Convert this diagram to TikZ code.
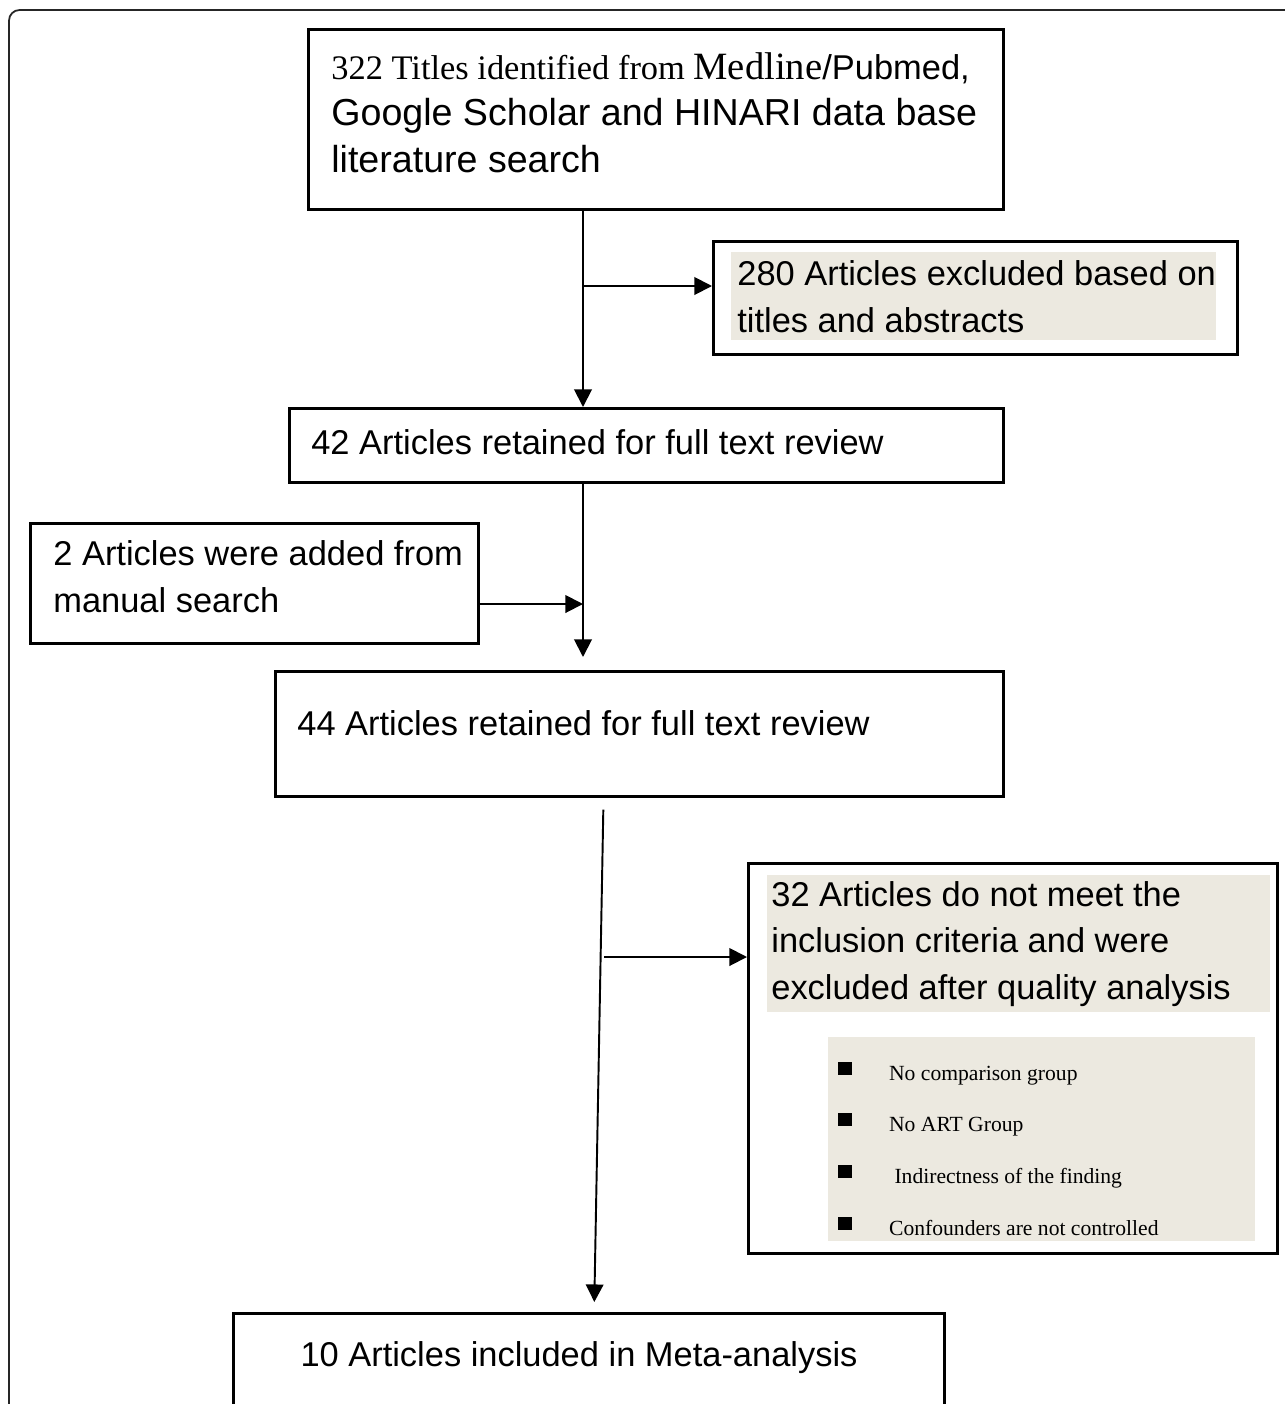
\documentclass[tikz,border=0pt]{standalone}
\usepackage{fontspec}
\setmainfont{Liberation Sans}
\newfontfamily\timesfont{Liberation Serif}
\usetikzlibrary{arrows.meta,calc}
\definecolor{shade}{RGB}{236,233,224}
\newcommand{\bigtxt}{\fontsize{19.6}{26.6}\selectfont}
\newcommand{\sq}{\rule[2.6pt]{7.8pt}{7.8pt}\hspace{21.1pt}}
\tikzset{
  box/.style 2 args={draw, line width=1.5pt, anchor=north west, inner sep=0pt,
    minimum width=#1*0.02cm, minimum height=#2*0.02cm},
  pad/.style 2 args={fill=shade, anchor=north west, inner sep=0pt,
    minimum width=#1*0.02cm, minimum height=#2*0.02cm},
  txt/.style={inner sep=0pt, align=left, font=\bigtxt},
  itm/.style={anchor=base west, inner sep=0pt, font=\timesfont\fontsize{12.3}{14}\selectfont},
  arr/.style={-{Triangle[length=10pt,width=10pt]}, line width=1.1pt},
}
\begin{document}
\begin{tikzpicture}[x=0.02cm, y=-0.02cm]
    \useasboundingbox (0,0) rectangle (1285,1404);
    \clip (0,0) rectangle (1285,1404);

    % 枠
    \draw[black!85, line width=1pt, rounded corners=6pt] (9,1460)--(9,10)--(1320,10);

    % 箱
    \node[box={695}{180}] (titles) at (307,28) {};
    \node[txt, anchor=north west, font=\fontsize{21.4}{26.6}\selectfont] (titlestx) at (331,52)
        {{\timesfont\bigtxt 322 Titles identified from {\fontsize{22}{26.6}\selectfont Medline}}{\bigtxt /Pubmed,}\\
         Google Scholar and HINARI data base\\
         literature search};

    \node[box={524}{113}] (excl) at (712,240) {};
    \node[pad={485}{88}] (exclbg) at (731,252) {};
    \node[txt, anchor=west] (excltx) at ($(exclbg.west)+(6,0)$)
        {280 Articles excluded based on\\ titles and abstracts};

    \node[box={714}{74}] (ret42) at (288,407) {};
    \node[txt, anchor=west] (ret42tx) at (311,442) {42 Articles retained for full text review};

    \node[box={448}{120}] (added) at (29,522) {};
    \node[txt, anchor=north west] (addedtx) at (53,540)
        {2 Articles were added from\\ manual search};

    \node[box={728}{125}] (ret44) at (274,670) {};
    \node[txt, anchor=west] (ret44tx) at (297,723) {44 Articles retained for full text review};

    \node[box={529}{390}] (excl32) at (747,862) {};
    \node[pad={503}{137}] (excl32bg) at (767,875) {};
    \node[txt, anchor=west] (excl32tx) at ($(excl32bg.west)+(4,0)$)
        {32 Articles do not meet the\\ inclusion criteria and were\\ excluded after quality analysis};
    \node[pad={427}{204}] (critbg) at (828,1037) {};
    \node[itm] (crit1) at (838,1080) {\sq No comparison group};
    \node[itm] (crit2) at (838,1131) {\sq No ART Group};
    \node[itm] (crit3) at (838,1183) {\sq\ Indirectness of the finding};
    \node[itm] (crit4) at (838,1235) {\sq Confounders are not controlled};

    \node[box={711}{140}] (incl) at (232,1312) {};
    \node[txt] (incltx) at (579,1358) {10 Articles included in Meta-analysis};

    % 矢印
    \coordinate (spine) at (583,0);
    \coordinate (j1) at (583,286);
    \coordinate (j2) at (583,604);
    \coordinate (j3) at (604,957);
    \draw[arr] (titles.south -| spine)--(ret42.north -| spine);
    \draw[arr] (j1)--(j1 -| excl.west);
    \draw[arr] (ret42.south -| spine)--($(ret44.north -| spine)+(0,-13)$);
    \draw[arr] (j2 -| added.east)--(j2);
    \draw[arr] ($(ret44.south)+(-36,12)$)--($(incl.north)+(5.5,-10)$);
    \draw[arr] (j3)--(j3 -| excl32.west);

\end{tikzpicture}
\end{document}
